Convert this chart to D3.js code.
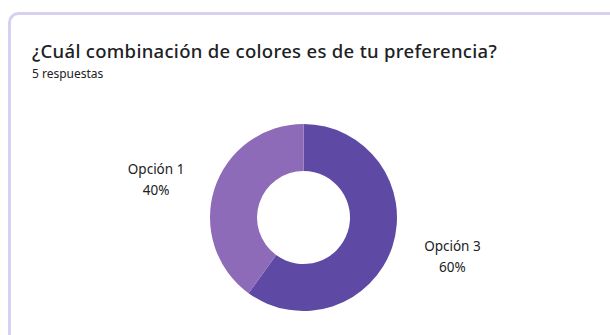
<!DOCTYPE html>
<html>
<head>
<meta charset="utf-8">
<script src="https://cdn.jsdelivr.net/npm/d3@7"></script>
<style>
  html, body { margin: 0; padding: 0; background: #ffffff; }
  svg { display: block; }
</style>
</head>
<body>
<svg id="chart" width="610" height="335"></svg>
<script>
// Survey answers: option labels and response counts
const categories = ["Opción 3", "Opción 1"];
const counts = [3, 2];
const colors = ["#5e4aa4", "#8d6bb8"];
const title = "¿Cuál combinación de colores es de tu preferencia?";
const subtitle = "5 respuestas";

const svg = d3.select("#chart");
const W = 610, H = 335;
const font = "'Noto Sans', 'Open Sans', sans-serif";

// Card frame (continues past the right and bottom edges)
svg.append("rect")
  .attr("x", 9.5).attr("y", 13.5)
  .attr("width", W + 20).attr("height", H + 20)
  .attr("rx", 9).attr("ry", 9)
  .attr("fill", "#ffffff")
  .attr("stroke", "#d8cff2")
  .attr("stroke-width", 3);

svg.append("text")
  .attr("x", 32).attr("y", 58)
  .attr("font-family", font)
  .attr("font-size", 18.5)
  .attr("letter-spacing", 0.3)
  .attr("font-weight", 500)
  .attr("fill", "#202124")
  .text(title);

svg.append("text")
  .attr("x", 32).attr("y", 78)
  .attr("font-family", font)
  .attr("font-size", 12)
  .attr("fill", "#202124")
  .text(subtitle);

// Donut
const cx = 303.5, cy = 217.5, outerR = 93.5, innerR = 46.5;
const total = d3.sum(counts);
const data = categories.map((c, i) => ({ label: c, value: counts[i], color: colors[i] }));

const pie = d3.pie().sort(null).value(d => d.value);
const arcs = pie(data);
const arc = d3.arc().innerRadius(innerR).outerRadius(outerR);
const labelArc = d3.arc().innerRadius(155).outerRadius(155);

const g = svg.append("g").attr("transform", `translate(${cx},${cy})`);

g.selectAll("path.slice")
  .data(arcs)
  .join("path")
  .attr("class", "slice")
  .attr("d", arc)
  .attr("fill", d => d.data.color);

const pct = d3.format(".0%");
const labels = g.selectAll("g.lbl")
  .data(arcs)
  .join("g")
  .attr("class", "lbl")
  .attr("transform", d => {
    const [x, y] = labelArc.centroid(d);
    return `translate(${x + (x > 0 ? 1.5 : 0)},${y * 0.8})`;
  });

labels.append("text")
  .attr("text-anchor", "middle")
  .attr("y", -5)
  .attr("font-family", font)
  .attr("font-size", 13.5)
  .attr("fill", "#202124")
  .text(d => d.data.label);

labels.append("text")
  .attr("text-anchor", "middle")
  .attr("y", 16)
  .attr("font-family", font)
  .attr("font-size", 13.5)
  .attr("fill", "#202124")
  .text(d => pct(d.data.value / total));
</script>
</body>
</html>
